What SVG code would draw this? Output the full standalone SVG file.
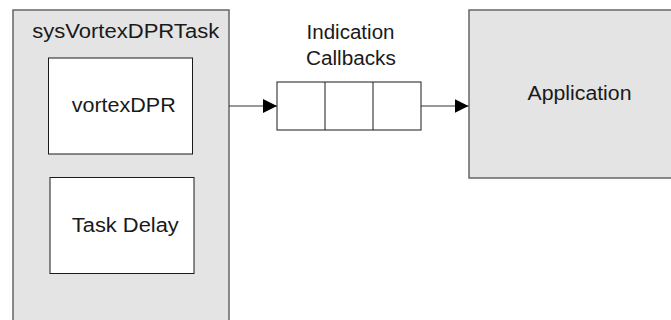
<svg xmlns="http://www.w3.org/2000/svg" width="671" height="320" viewBox="0 0 671 320">
  <defs>
    <style>
      .outer { fill: #e4e4e4; stroke: #666666; stroke-width: 1.5; }
      .inner { fill: #ffffff; stroke: #1a1a1a; stroke-width: 1; }
      .lbl { font-family: "Liberation Sans", Arial, sans-serif; font-size: 19.5px; fill: #1a1a1a; text-anchor: middle; }
      .wire { stroke: #333333; stroke-width: 1; fill: none; }
    </style>
    <marker id="arrow" viewBox="0 0 14 14" refX="14" refY="7" markerWidth="14" markerHeight="14" markerUnits="userSpaceOnUse" orient="auto">
      <path d="M0,0 L14,7 L0,14 Z" fill="#000000"/>
    </marker>
  </defs>

  <rect width="671" height="320" fill="#ffffff"/>

  <!-- Task container -->
  <g id="sysVortexDPRTask">
    <rect class="outer" x="13" y="10" width="216" height="320"/>
    <text class="lbl" x="125.7" y="38.3" textLength="187" lengthAdjust="spacingAndGlyphs">sysVortexDPRTask</text>
  </g>

  <g id="vortexDPR">
    <rect class="inner" x="48.5" y="58" width="144" height="96"/>
    <text class="lbl" x="123.7" y="112.3" textLength="104" lengthAdjust="spacingAndGlyphs">vortexDPR</text>
  </g>

  <g id="taskDelay">
    <rect class="inner" x="50" y="177.5" width="144" height="96"/>
    <text class="lbl" x="125.3" y="231.7" textLength="107" lengthAdjust="spacingAndGlyphs">Task Delay</text>
  </g>

  <!-- Callback queue -->
  <g id="indicationQueue">
    <text class="lbl" x="350.5" y="39.3" textLength="88" lengthAdjust="spacingAndGlyphs">Indication</text>
    <text class="lbl" x="350.9" y="65" textLength="90" lengthAdjust="spacingAndGlyphs">Callbacks</text>
    <rect class="inner" x="277" y="82" width="144" height="48"/>
    <line class="inner" x1="325" y1="82" x2="325" y2="130"/>
    <line class="inner" x1="373" y1="82" x2="373" y2="130"/>
  </g>

  <g id="application">
    <rect class="outer" x="469" y="10" width="215" height="168"/>
    <text class="lbl" x="579.5" y="100" textLength="104" lengthAdjust="spacingAndGlyphs">Application</text>
  </g>

  <!-- Connectors -->
  <g id="connectors">
    <line class="wire" x1="229" y1="106" x2="277" y2="106" marker-end="url(#arrow)"/>
    <line class="wire" x1="421" y1="106" x2="468.5" y2="106" marker-end="url(#arrow)"/>
  </g>
</svg>
